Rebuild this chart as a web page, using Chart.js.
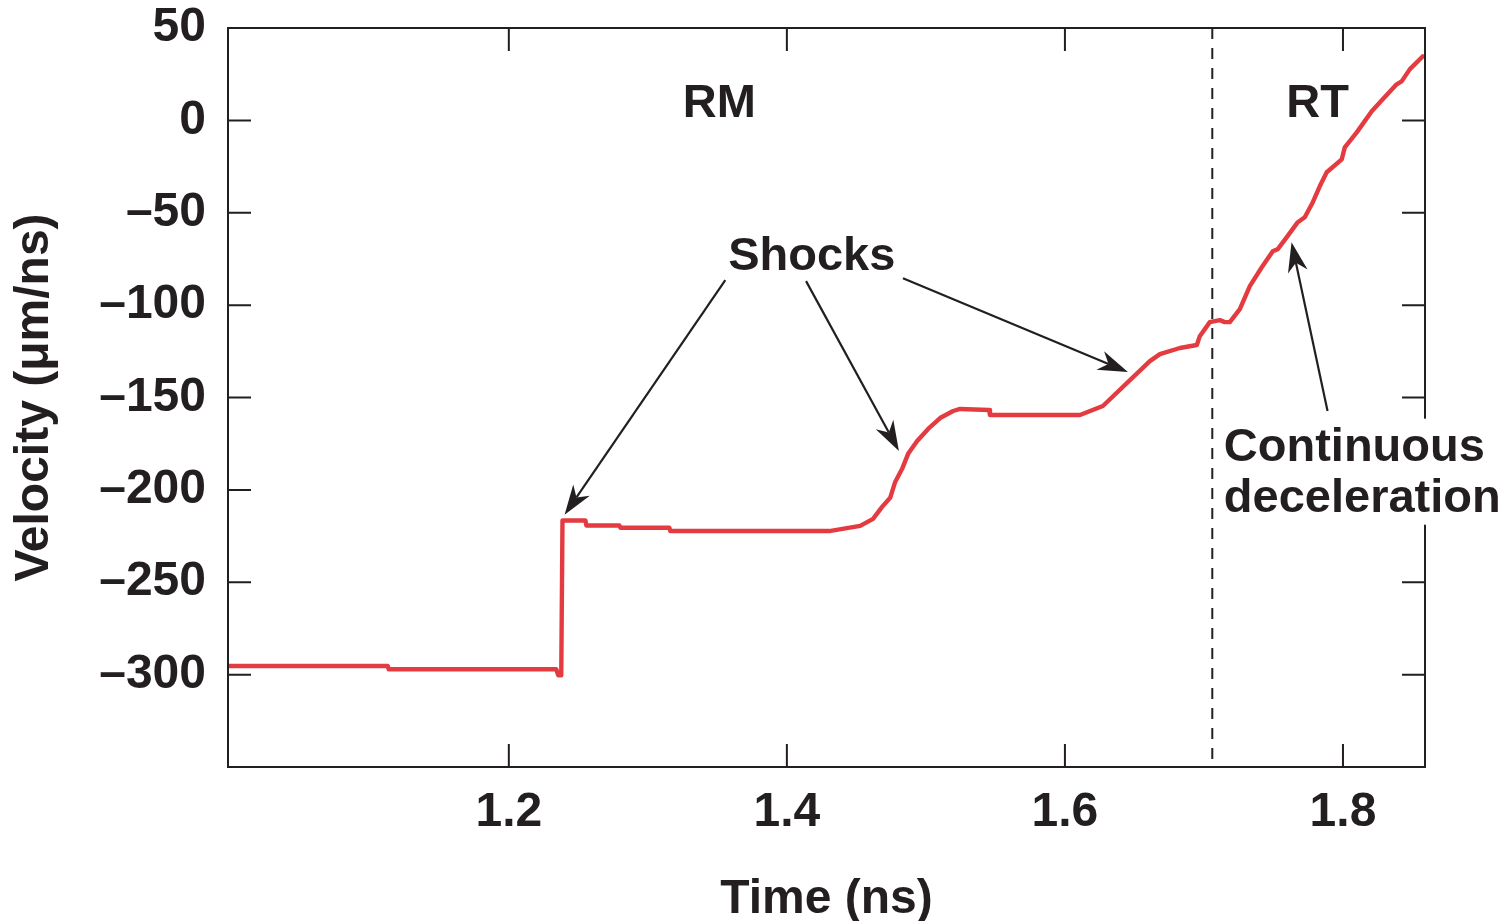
<!DOCTYPE html>
<html>
<head>
<meta charset="utf-8">
<script src="https://cdn.jsdelivr.net/npm/chart.js@4.4.1/dist/chart.umd.min.js"></script>
<style>
  html, body { margin: 0; padding: 0; background: #fff; }
  #wrap { width: 1511px; height: 921px; position: relative; }
</style>
</head>
<body>
<div id="wrap"><canvas id="velocityChart"></canvas></div>
<script>
// values
const timeNs = [0.998, 1.1129, 1.1136, 1.2341, 1.2355, 1.2377, 1.2386, 1.2551, 1.2558, 1.2795,
    1.2803, 1.3155, 1.3162, 1.4305, 1.4527, 1.4620, 1.4685, 1.4743, 1.4779, 1.4829,
    1.4872, 1.4937, 1.5016, 1.5102, 1.5196, 1.5246, 1.5454, 1.5461, 1.6108, 1.6273,
    1.6611, 1.6683, 1.6827, 1.6949, 1.6970, 1.7042, 1.7114, 1.7150, 1.7186, 1.7258,
    1.7330, 1.7416, 1.7495, 1.7531, 1.7596, 1.7675, 1.7725, 1.7783, 1.7833, 1.7883,
    1.7991, 1.8013, 1.8099, 1.8207, 1.8286, 1.8386, 1.8422, 1.8480, 1.8573];
const velocity = [-295.3, -295.3, -297.1, -297.1, -300.3, -300.3, -216.6, -216.6, -219.3, -219.3,
    -220.5, -220.5, -222.3, -222.3, -219.5, -215.7, -209.2, -204.3, -195.7, -188.6,
    -180.5, -173.5, -167.0, -161.1, -157.3, -156.2, -156.8, -159.5, -159.5, -154.6,
    -130.3, -126.5, -123.2, -121.6, -116.8, -109.2, -108.1, -109.2, -109.2, -102.2,
    -89.7, -79.5, -70.8, -69.7, -63.2, -55.1, -52.4, -44.3, -35.7, -28.1,
    -21.1, -14.6, -6.5, 4.9, 11.4, 19.5, 21.1, 27.6, 34.6];
const xTicks = [1.2, 1.4, 1.6, 1.8];
const yTicks = [-300, -250, -200, -150, -100, -50, 0, 50];
const rmRtBoundary = 1.706;

// annotations, in data coordinates
const labels = [
    { text: 'RM', x: 1.3514, y: 1.6, align: 'center' },
    { text: 'RT', x: 1.7817, y: 1.6, align: 'center' },
    { text: 'Shocks', x: 1.4179, y: -80.9, align: 'center' },
    { text: 'Continuous', x: 1.7143, y: -184.2, align: 'left' },
    { text: 'deceleration', x: 1.7143, y: -212.1, align: 'left' }
];
const arrows = [
    { from: [1.3557, -86.5], to: [1.2401, -213.5] },
    { from: [1.4138, -87.0], to: [1.4806, -178.9] },
    { from: [1.4835, -85.4], to: [1.6453, -136.2] },
    { from: [1.7889, -157.3], to: [1.7630, -65.9] }
];

const INK = '#231f20';
const FONT = "'Liberation Sans', Arial, sans-serif";

function drawArrow(ctx, x1, y1, x2, y2) {
    const ang = Math.atan2(y2 - y1, x2 - x1);
    const len = 30, half = 10, notch = 9;
    const c = Math.cos(ang), s = Math.sin(ang);
    ctx.beginPath();
    ctx.moveTo(x1, y1);
    ctx.lineTo(x2 - c * (len - notch), y2 - s * (len - notch));
    ctx.stroke();
    const bx = x2 - c * len, by = y2 - s * len;
    ctx.beginPath();
    ctx.moveTo(x2, y2);
    ctx.lineTo(bx + s * half, by - c * half);
    ctx.lineTo(x2 - c * (len - notch), y2 - s * (len - notch));
    ctx.lineTo(bx - s * half, by + c * half);
    ctx.closePath();
    ctx.fill();
}

const framePlugin = {
    id: 'frame',
    beforeDatasetsDraw(chart) {
        const { ctx, chartArea: a, scales: { x } } = chart;
        const px = x.getPixelForValue(rmRtBoundary);
        ctx.save();
        ctx.strokeStyle = INK;
        ctx.lineWidth = 2;
        ctx.setLineDash([11, 9]);
        ctx.beginPath();
        ctx.moveTo(px, a.top);
        ctx.lineTo(px, a.bottom);
        ctx.stroke();
        ctx.restore();
    },
    afterDatasetsDraw(chart) {
        const { ctx, chartArea: a, scales: { x, y } } = chart;
        const tick = 23;
        ctx.save();
        ctx.strokeStyle = INK;
        ctx.fillStyle = INK;
        ctx.lineWidth = 2;
        ctx.strokeRect(a.left, a.top, a.right - a.left, a.bottom - a.top);
        ctx.beginPath();
        xTicks.forEach(v => {
            const px = x.getPixelForValue(v);
            ctx.moveTo(px, a.bottom); ctx.lineTo(px, a.bottom - tick);
            ctx.moveTo(px, a.top); ctx.lineTo(px, a.top + tick);
        });
        yTicks.forEach(v => {
            const py = y.getPixelForValue(v);
            ctx.moveTo(a.left, py); ctx.lineTo(a.left + tick, py);
            ctx.moveTo(a.right, py); ctx.lineTo(a.right - tick, py);
        });
        ctx.stroke();

        ctx.lineWidth = 2.2;
        arrows.forEach(ar => {
            drawArrow(ctx,
                x.getPixelForValue(ar.from[0]), y.getPixelForValue(ar.from[1]),
                x.getPixelForValue(ar.to[0]), y.getPixelForValue(ar.to[1]));
        });

        // white box behind the "Continuous deceleration" label (it hides the right border)
        ctx.fillStyle = '#fff';
        const bx = x.getPixelForValue(1.7143) - 3;
        ctx.fillRect(bx, y.getPixelForValue(-184.2) - 42, 1511 - bx, 106);

        ctx.fillStyle = INK;
        ctx.font = 'bold 47px ' + FONT;
        ctx.textBaseline = 'alphabetic';
        labels.forEach(l => {
            ctx.textAlign = l.align;
            ctx.fillText(l.text, x.getPixelForValue(l.x), y.getPixelForValue(l.y));
        });
        ctx.restore();
    }
};

const ctx = document.getElementById('velocityChart').getContext('2d');
const velocityChart = new Chart(ctx, {
    type: 'line',
    data: {
        datasets: [{
            data: timeNs.map((t, i) => ({ x: t, y: velocity[i] })),
            borderColor: '#e43b40',
            borderWidth: 4.4,
            pointRadius: 0,
            tension: 0,
            borderJoinStyle: 'round',
            borderCapStyle: 'round'
        }]
    },
    options: {
        responsive: true,
        maintainAspectRatio: false,
        animation: false,
        layout: { padding: { top: 28, right: 86, left: 0, bottom: 0 } },
        plugins: {
            legend: { display: false },
            tooltip: { enabled: false }
        },
        scales: {
            x: {
                type: 'linear',
                min: 0.998,
                max: 1.859,
                grid: { display: false },
                border: { display: false },
                afterBuildTicks: scale => { scale.ticks = xTicks.map(v => ({ value: v })); },
                afterFit: scale => {
                    scale.height = 154;
                    scale.paddingLeft = 0;
                    scale.paddingRight = 0;
                },
                ticks: {
                    padding: 14,
                    color: INK,
                    font: { family: FONT, size: 48, weight: 'bold', lineHeight: 1 },
                    callback: v => v.toFixed(1)
                },
                title: {
                    display: true,
                    text: 'Time (ns)',
                    color: INK,
                    padding: { top: 0, bottom: -3 },
                    font: { family: FONT, size: 48, weight: 'bold', lineHeight: 1 }
                }
            },
            y: {
                min: -350,
                max: 50,
                grid: { display: false },
                border: { display: false },
                afterBuildTicks: scale => { scale.ticks = yTicks.map(v => ({ value: v })); },
                afterFit: scale => {
                    scale.width = 228;
                    scale.paddingTop = 0;
                    scale.paddingBottom = 0;
                },
                ticks: {
                    padding: 14,
                    color: INK,
                    font: { family: FONT, size: 48, weight: 'bold', lineHeight: 1 },
                    callback: v => (v < 0 ? '\u2013' + Math.abs(v) : String(v))
                },
                title: {
                    display: true,
                    text: 'Velocity (\u03bcm/ns)',
                    color: INK,
                    padding: { top: 11, bottom: 0 },
                    font: { family: FONT, size: 48, weight: 'bold', lineHeight: 1 }
                }
            }
        }
    },
    plugins: [framePlugin]
});
</script>
</body>
</html>
